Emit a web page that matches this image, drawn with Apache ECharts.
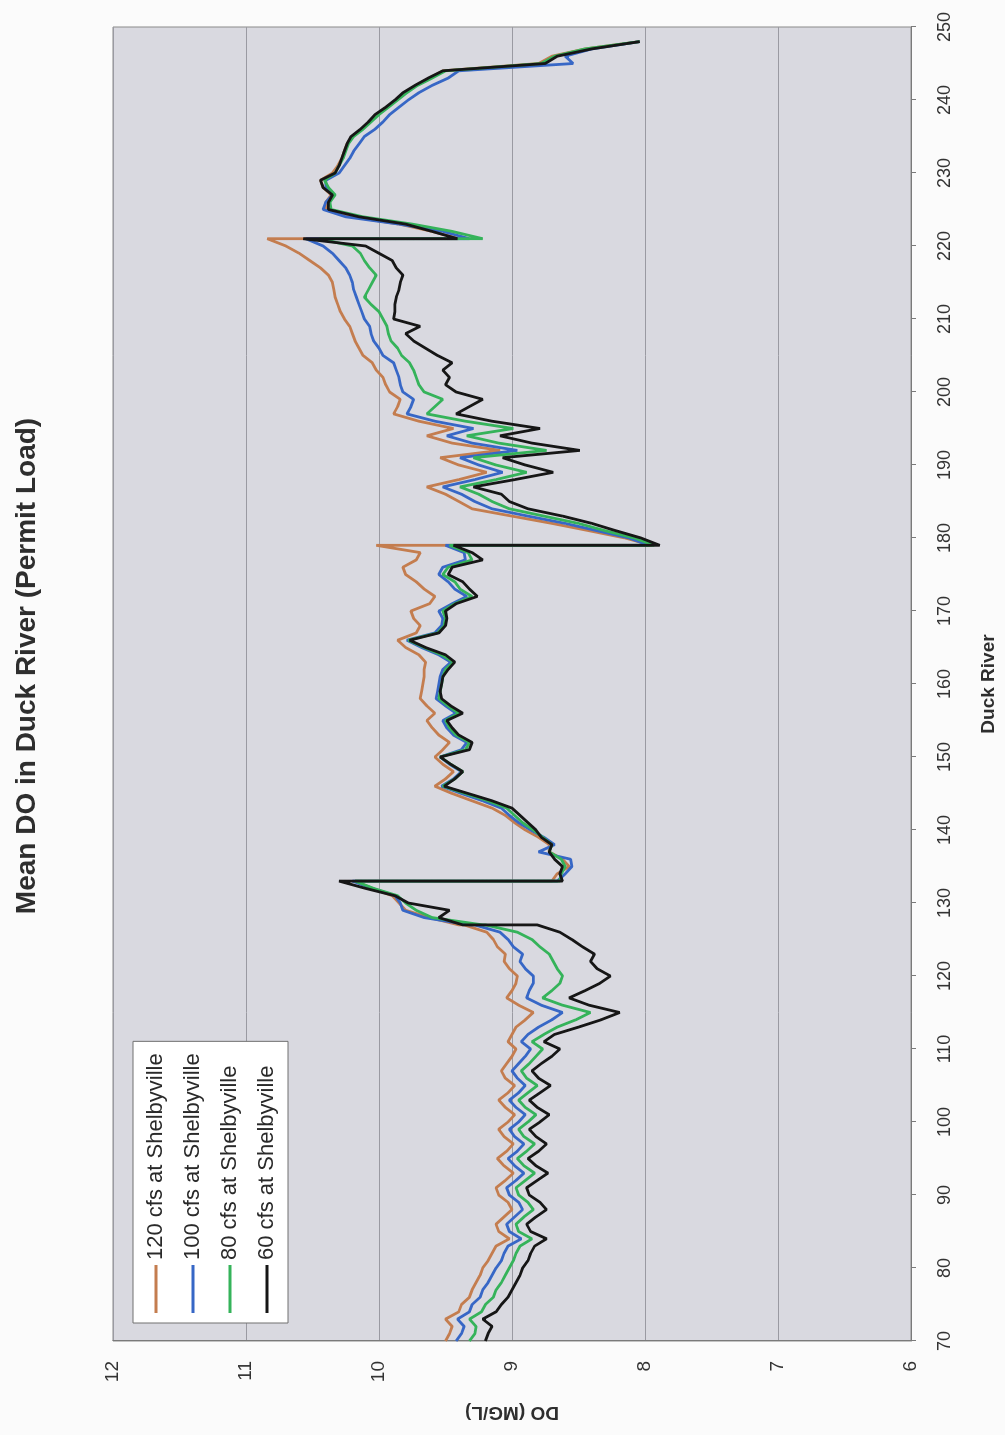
<!DOCTYPE html>
<html>
<head>
<meta charset="utf-8">
<script src="https://cdn.jsdelivr.net/npm/echarts@6/dist/echarts.min.js"></script>
<style>
  html, body { margin: 0; padding: 0; width: 1005px; height: 1435px; overflow: hidden; background: #fbfbfb; }
  #wrap { position: absolute; left: 0; top: 0; width: 1435px; height: 1005px;
          transform-origin: 0 0; transform: translate(0, 1435px) rotate(-90deg); }
</style>
</head>
<body>
<div id="wrap"></div>
<script>
// River mile (duplicates mark the abrupt jumps)
var miles = [
  70,71,72,73,74,75,76,77,78,79,
  80,81,82,83,84,85,86,87,88,89,
  90,91,92,93,94,95,96,97,98,99,
  100,101,102,103,104,105,106,107,108,109,
  110,111,112,113,114,115,116,117,118,119,
  120,121,122,123,124,125,126,127,127,128,129,
  130,131,132,133,133,134,135,136,137,138,139,
  140,141,142,143,144,145,146,147,148,149,
  150,151,152,153,154,155,156,157,158,159,
  160,161,162,163,164,165,166,167,168,169,
  170,171,172,173,174,175,176,177,178,179,179,
  180,181,182,183,184,185,186,187,188,189,
  190,191,192,193,194,195,196,197,198,199,
  200,201,202,203,204,205,206,207,208,209,
  210,211,212,213,214,215,216,217,218,219,
  220,221,221,222,223,224,225,226,227,228,229,
  230,231,232,233,234,235,236,237,238,239,
  240,241,242,243,244,245,246,247,248
];

var seriesNames = ['120 cfs at Shelbyville', '100 cfs at Shelbyville', '80 cfs at Shelbyville', '60 cfs at Shelbyville'];

var do120 = [
  9.50,9.47,9.45,9.50,9.40,9.38,9.32,9.30,9.27,9.24,
  9.22,9.18,9.15,9.12,9.02,9.10,9.12,9.06,9.00,9.03,
  9.10,9.12,9.05,8.99,9.06,9.11,9.04,8.99,9.06,9.10,
  9.03,8.98,9.05,9.10,9.03,8.98,9.05,9.08,9.04,9.00,
  8.97,9.03,9.00,8.97,8.90,8.84,8.95,9.04,9.00,8.97,
  8.96,9.02,9.06,9.05,9.11,9.14,9.19,9.36,9.40,9.62,9.80,
  9.85,9.90,10.05,10.18,8.70,8.66,8.57,8.62,8.72,8.72,8.80,
  8.90,8.98,9.05,9.15,9.30,9.45,9.58,9.50,9.44,9.52,
  9.58,9.52,9.47,9.55,9.60,9.64,9.58,9.64,9.69,9.68,
  9.67,9.66,9.66,9.65,9.70,9.80,9.86,9.72,9.69,9.74,
  9.76,9.62,9.58,9.66,9.72,9.80,9.82,9.72,9.69,10.02,7.95,
  8.15,8.42,8.70,9.00,9.30,9.40,9.50,9.64,9.40,9.19,
  9.40,9.54,9.09,9.45,9.64,9.44,9.70,9.89,9.86,9.84,
  9.92,9.95,9.97,10.02,10.05,10.12,10.15,10.18,10.20,10.22,
  10.26,10.29,10.31,10.33,10.34,10.35,10.38,10.44,10.52,10.60,
  10.70,10.84,9.40,9.60,9.85,10.20,10.40,10.40,10.36,10.42,10.44,
  10.35,10.31,10.28,10.26,10.24,10.20,10.13,10.07,10.02,9.94,
  9.87,9.80,9.72,9.62,9.52,8.80,8.70,8.45,8.04
];

var do100 = [
  9.42,9.38,9.36,9.41,9.32,9.30,9.24,9.22,9.18,9.15,
  9.12,9.08,9.06,9.03,8.93,9.02,9.04,8.98,8.92,8.95,
  9.02,9.04,8.97,8.91,8.98,9.03,8.96,8.91,8.98,9.02,
  8.95,8.90,8.97,9.02,8.95,8.90,8.96,9.00,8.95,8.90,
  8.86,8.93,8.88,8.80,8.70,8.62,8.78,8.89,8.87,8.84,
  8.84,8.90,8.94,8.92,8.99,9.03,9.09,9.28,9.32,9.66,9.82,
  9.84,9.88,10.05,10.20,8.66,8.60,8.55,8.56,8.80,8.68,8.76,
  8.86,8.95,9.02,9.08,9.22,9.38,9.53,9.44,9.38,9.47,
  9.54,9.38,9.34,9.44,9.49,9.52,9.42,9.50,9.57,9.56,
  9.55,9.54,9.52,9.46,9.55,9.68,9.79,9.58,9.53,9.52,
  9.55,9.45,9.34,9.43,9.48,9.55,9.52,9.35,9.36,9.50,7.97,
  8.12,8.36,8.60,8.88,9.15,9.28,9.38,9.52,9.28,9.07,
  9.25,9.39,8.96,9.30,9.49,9.29,9.58,9.79,9.76,9.74,
  9.82,9.84,9.85,9.87,9.89,9.97,10.00,10.04,10.06,10.07,
  10.11,10.13,10.15,10.17,10.19,10.20,10.22,10.25,10.30,10.35,
  10.42,10.55,9.32,9.52,9.85,10.25,10.42,10.40,10.35,10.40,10.40,
  10.30,10.26,10.22,10.19,10.15,10.11,10.03,9.97,9.92,9.85,
  9.78,9.70,9.60,9.48,9.40,8.54,8.60,8.40,8.04
];

var do80 = [
  9.32,9.28,9.27,9.32,9.23,9.20,9.14,9.12,9.08,9.05,
  9.02,8.99,8.97,8.94,8.85,8.95,8.97,8.91,8.84,8.88,
  8.95,8.97,8.90,8.83,8.91,8.96,8.89,8.83,8.91,8.95,
  8.88,8.82,8.90,8.95,8.88,8.81,8.89,8.93,8.87,8.82,
  8.77,8.85,8.76,8.66,8.52,8.41,8.62,8.77,8.70,8.64,
  8.62,8.66,8.69,8.72,8.79,8.85,8.96,9.20,9.22,9.60,9.72,
  9.80,9.86,10.04,10.18,8.64,8.63,8.60,8.63,8.72,8.70,8.77,
  8.84,8.92,8.98,9.04,9.18,9.35,9.52,9.43,9.37,9.46,
  9.54,9.35,9.32,9.42,9.47,9.50,9.40,9.48,9.55,9.54,
  9.53,9.52,9.50,9.44,9.53,9.66,9.78,9.56,9.51,9.50,
  9.52,9.43,9.30,9.39,9.43,9.52,9.48,9.30,9.33,9.47,7.93,
  8.08,8.30,8.50,8.76,9.02,9.15,9.25,9.39,9.12,8.89,
  9.12,9.29,8.74,9.10,9.34,8.99,9.35,9.64,9.58,9.52,
  9.66,9.70,9.72,9.74,9.77,9.83,9.86,9.91,9.93,9.94,
  9.97,10.00,10.06,10.11,10.08,10.05,10.02,10.07,10.11,10.14,
  10.20,10.45,9.22,9.45,9.75,10.12,10.36,10.37,10.33,10.38,10.41,
  10.33,10.30,10.27,10.25,10.23,10.19,10.12,10.06,10.00,9.93,
  9.86,9.79,9.71,9.60,9.50,8.78,8.68,8.45,8.04
];

var do60 = [
  9.20,9.18,9.15,9.22,9.12,9.08,9.03,9.00,8.97,8.94,
  8.92,8.88,8.86,8.83,8.74,8.86,8.89,8.82,8.74,8.79,
  8.87,8.89,8.81,8.73,8.82,8.88,8.80,8.74,8.82,8.87,
  8.79,8.72,8.81,8.87,8.79,8.71,8.80,8.85,8.78,8.70,
  8.64,8.76,8.68,8.50,8.33,8.19,8.42,8.57,8.45,8.34,
  8.26,8.36,8.41,8.38,8.47,8.55,8.64,8.81,9.37,9.55,9.47,
  9.78,9.88,10.10,10.30,8.62,8.64,8.62,8.68,8.72,8.70,8.78,
  8.82,8.88,8.94,9.00,9.15,9.33,9.51,9.43,9.37,9.46,
  9.54,9.32,9.30,9.40,9.45,9.49,9.37,9.46,9.53,9.54,
  9.53,9.52,9.48,9.43,9.50,9.65,9.77,9.55,9.50,9.49,
  9.50,9.42,9.26,9.32,9.37,9.48,9.45,9.22,9.30,9.44,7.89,
  8.03,8.22,8.40,8.62,8.88,9.02,9.08,9.29,8.98,8.69,
  8.90,9.07,8.49,8.85,9.09,8.79,9.15,9.42,9.32,9.22,
  9.42,9.50,9.47,9.52,9.45,9.56,9.65,9.74,9.80,9.69,
  9.89,9.88,9.88,9.87,9.85,9.84,9.82,9.87,9.90,10.00,
  10.10,10.57,9.41,9.60,9.80,10.15,10.38,10.38,10.35,10.42,10.44,
  10.33,10.30,10.28,10.26,10.24,10.21,10.14,10.08,10.03,9.95,
  9.88,9.82,9.73,9.63,9.52,8.75,8.66,8.40,8.04
];

var lineColors = ['#c47d4f', '#3767c6', '#35b35a', '#161616'];
var FONT = '"Liberation Sans", Arial, sans-serif';

function pairs(vals) {
  var out = [];
  for (var i = 0; i < miles.length; i++) out.push([miles[i], vals[i]]);
  return out;
}

var allVals = [do120, do100, do80, do60];
var series = seriesNames.map(function (n, i) {
  return {
    name: n,
    type: 'line',
    data: pairs(allVals[i]),
    symbol: 'none',
    smooth: false,
    lineStyle: { color: lineColors[i], width: 2.8 },
    itemStyle: { color: lineColors[i] },
    z: 2 + i
  };
});

var chart = echarts.init(document.getElementById('wrap'), null, { renderer: 'canvas' });
chart.setOption({
  animation: false,
  backgroundColor: 'transparent',
  title: {
    text: 'Mean DO in Duck River (Permit Load)',
    left: 764,
    top: 8,
    textAlign: 'center',
    textStyle: { fontFamily: FONT, fontSize: 28, fontWeight: 'bold', color: '#2e2e2e' }
  },
  legend: {
    orient: 'vertical',
    left: 112,
    top: 133,
    backgroundColor: '#ffffff',
    borderColor: '#707070',
    borderWidth: 1,
    padding: [12, 12, 10, 10],
    itemWidth: 48,
    itemHeight: 3,
    itemGap: 15,
    icon: 'rect',
    textStyle: { fontFamily: FONT, fontSize: 22, color: '#2a2a2a' },
    data: seriesNames
  },
  grid: {
    left: 94, right: 27, top: 113, bottom: 94,
    show: true,
    backgroundColor: '#d9d9e0',
    borderColor: '#8a8a8a',
    borderWidth: 1
  },
  xAxis: {
    type: 'value',
    min: 70, max: 250, interval: 10,
    name: 'Duck River',
    nameLocation: 'middle',
    nameGap: 68,
    nameTextStyle: { fontFamily: FONT, fontSize: 19, fontWeight: 'bold', color: '#2e2e2e' },
    axisLine: { show: true, lineStyle: { color: '#7a7a7a', width: 1 } },
    axisTick: { show: true, inside: false, length: 5, lineStyle: { color: '#7a7a7a' } },
    axisLabel: { fontFamily: FONT, fontSize: 18, color: '#333333', margin: 25 },
    splitLine: { show: false }
  },
  yAxis: {
    type: 'value',
    min: 6, max: 12, interval: 1,
    name: 'DO (MG/L)',
    nameLocation: 'middle',
    nameRotate: 90,
    nameGap: 62,
    nameTextStyle: { fontFamily: FONT, fontSize: 19, fontWeight: 'bold', color: '#2e2e2e' },
    axisLine: { show: true, lineStyle: { color: '#7a7a7a', width: 1 } },
    axisTick: { show: false },
    axisLabel: { fontFamily: FONT, fontSize: 19, color: '#333333', margin: 20 },
    splitLine: { show: true, lineStyle: { color: '#9a9aa2', width: 1 } }
  },
  series: series
});
</script>
</body>
</html>
